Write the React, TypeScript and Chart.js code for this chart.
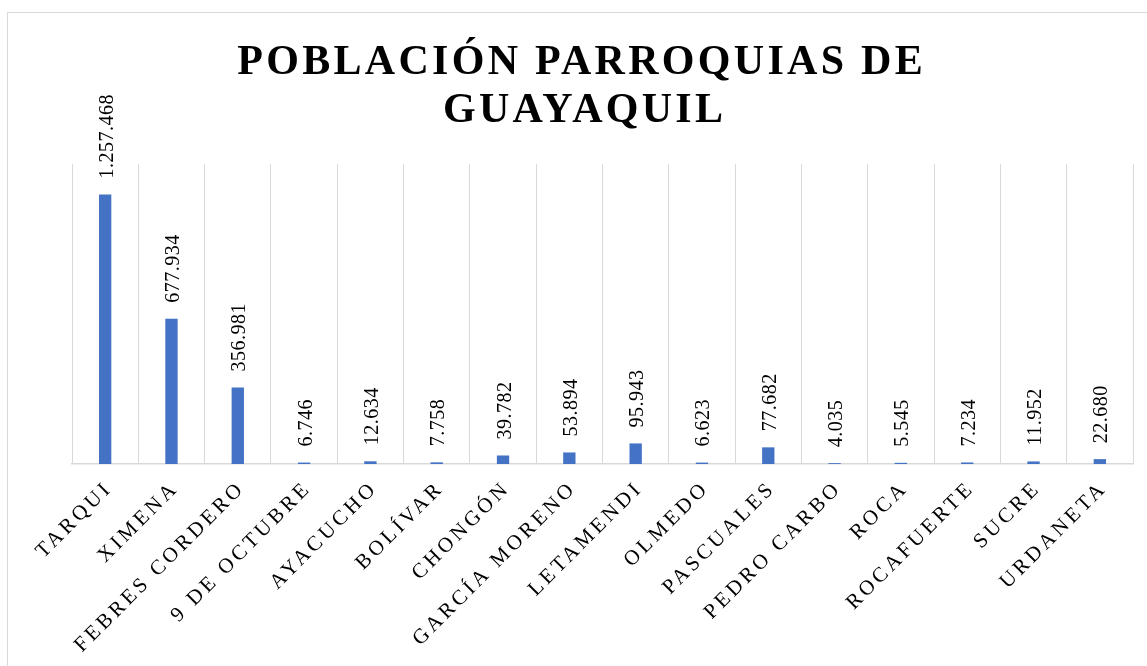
import { useEffect, useRef } from 'react';
import { Chart, registerables } from 'chart.js';

Chart.register(...registerables);

const categories = [
  'TARQUI', 'XIMENA', 'FEBRES CORDERO', '9 DE OCTUBRE', 'AYACUCHO', 'BOLÍVAR',
  'CHONGÓN', 'GARCÍA MORENO', 'LETAMENDI', 'OLMEDO', 'PASCUALES', 'PEDRO CARBO',
  'ROCA', 'ROCAFUERTE', 'SUCRE', 'URDANETA',
];
const population = [
  1257468, 677934, 356981, 6746, 12634, 7758,
  39782, 53894, 95943, 6623, 77682, 4035,
  5545, 7234, 11952, 22680,
];
const titleLines = ['POBLACIÓN PARROQUIAS DE', 'GUAYAQUIL'];
const yMin = 0;
const yMax = 1400000;

const SERIF = '"Liberation Serif", serif';

function fmt(n: number): string {
  return String(n).replace(/\B(?=(\d{3})+(?!\d))/g, '.');
}

function drawSpaced(ctx: CanvasRenderingContext2D, text: string, x: number, y: number, ls: number, align: 'left' | 'center' | 'right') {
  (ctx as any).letterSpacing = ls + 'px';
  ctx.textAlign = 'left';
  const w = ctx.measureText(text).width - ls;
  let sx = x;
  if (align === 'center') sx = x - w / 2;
  else if (align === 'right') sx = x - w;
  ctx.fillText(text, sx, y);
}

const textPlugin = {
  id: 'customText',
  afterDraw(chart: any) {
    const ctx: CanvasRenderingContext2D = chart.ctx;
    const xs = chart.scales.x;
    const ys = chart.scales.y;
    ctx.save();
    ctx.fillStyle = '#000000';
    ctx.textBaseline = 'alphabetic';

    // Title
    ctx.font = `bold 42px ${SERIF}`;
    drawSpaced(ctx, titleLines[0], 572, 60.5, 3.3, 'center');
    drawSpaced(ctx, titleLines[1], 575, 108.5, 3.3, 'center');

    // Data labels (rotated -90)
    ctx.font = `20px ${SERIF}`;
    population.forEach((v, i) => {
      const x = xs.getPixelForValue(i);
      const y = ys.getPixelForValue(v);
      ctx.save();
      ctx.translate(x + 7.5, y - 16);
      ctx.rotate(-Math.PI / 2);
      drawSpaced(ctx, fmt(v), 0, 0, 0.5, 'left');
      ctx.restore();
    });

    // Category labels (rotated -45)
    ctx.font = `21px ${SERIF}`;
    const base = chart.chartArea.bottom;
    categories.forEach((c, i) => {
      const x = xs.getPixelForValue(i);
      ctx.save();
      ctx.translate(x + 5.5, base + 27.5);
      ctx.rotate(-Math.PI / 4);
      drawSpaced(ctx, c, 0, 0, 3.5, 'right');
      ctx.restore();
    });
    ctx.restore();
  },
};

export default function App() {
  const ref = useRef<HTMLCanvasElement>(null);
  useEffect(() => {
    const canvas = ref.current!;
    const chart = new Chart(canvas, {
      type: 'bar',
      data: {
        labels: categories,
        datasets: [
          {
            data: population,
            backgroundColor: '#4472C4',
            barPercentage: 0.186,
            categoryPercentage: 1,
          },
        ],
      },
      options: {
        responsive: false,
        animation: false,
        layout: { padding: { left: 64, right: 25, top: 151, bottom: 209 } },
        plugins: {
          legend: { display: false },
          tooltip: { enabled: false },
          title: { display: false },
        },
        scales: {
          x: {
            grid: { color: '#d9d9d9', drawTicks: false, offset: true, lineWidth: 1 },
            border: { color: '#d9d9d9', width: 1.5 },
            ticks: { display: false },
          },
          y: { display: false, min: yMin, max: yMax },
        },
      },
      plugins: [textPlugin],
    });
    let alive = true;
    const fonts = (document as any).fonts;
    if (fonts && fonts.load) {
      Promise.all([
        fonts.load(`bold 42px ${SERIF}`),
        fonts.load(`20px ${SERIF}`),
      ]).then(() => {
        if (alive) chart.draw();
      }).catch(() => {});
    }
    return () => {
      alive = false;
      chart.destroy();
    };
  }, []);
  return (
    <div
      style={{
        position: 'fixed',
        left: 7,
        top: 12,
        width: 1160,
        height: 670,
        border: '1px solid #d9d9d9',
        background: '#ffffff',
        fontFamily: '"Liberation Serif", serif',
      }}
    >
      <canvas ref={ref} width={1150} height={660} style={{ display: 'block' }} />
    </div>
  );
}
